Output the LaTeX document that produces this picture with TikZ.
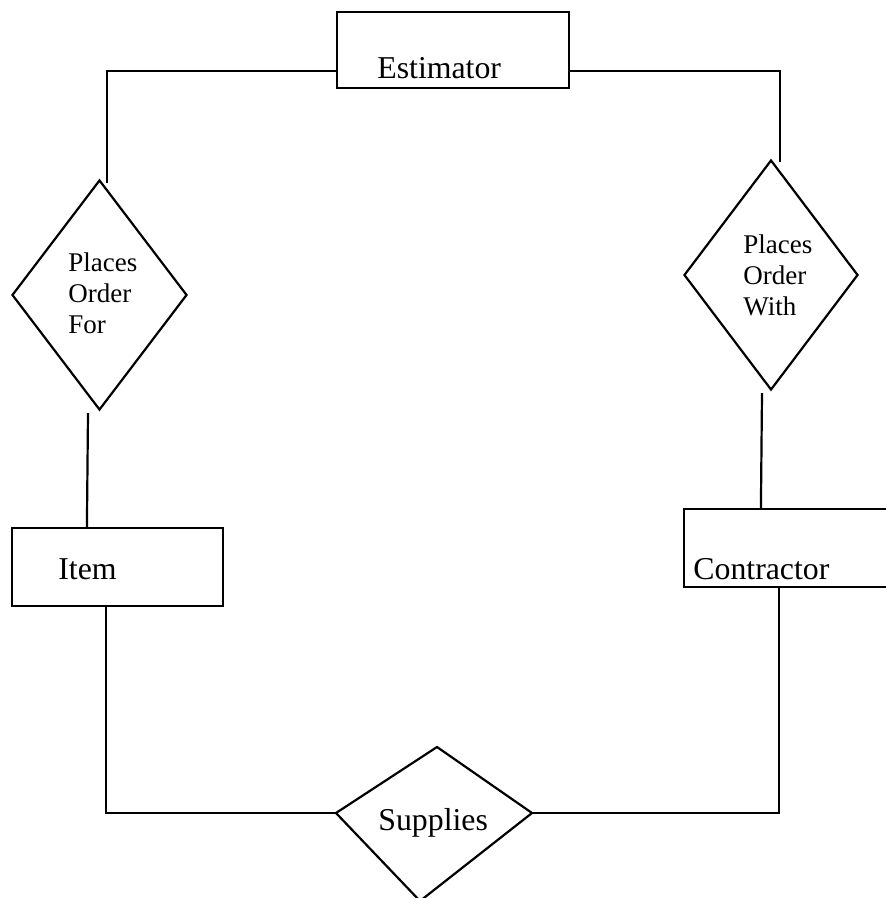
\documentclass[tikz,border=0pt]{standalone}
\usepackage{fontspec}
\setmainfont{Liberation Serif}
\usetikzlibrary{calc,shapes.geometric}
\begin{document}
% one unit = one pixel of the 886 x 898 drawing, y grows downwards
\begin{tikzpicture}[x=0.5pt,y=-0.5pt,
  entity/.style={draw, rectangle, line width=1.1pt, inner sep=0pt},
  relation/.style={draw, diamond, line width=1.1pt, inner sep=0pt},
  label text/.style={inner sep=0pt, font=\fontsize{15.9}{18}\selectfont},
  rel text/.style={inner sep=0pt, align=left, font=\fontsize{13.5}{15.6}\selectfont},
  link/.style={line width=1.1pt}]

\useasboundingbox (0,0) rectangle (886,898);
\clip (0,0) rectangle (886,898);

% entities
\node[entity, minimum width=116pt, minimum height=38pt] (est) at (453,50) {};
\node[entity, minimum width=105.5pt, minimum height=39pt] (item) at (117.5,567) {};
\node[entity, minimum width=103pt, minimum height=39pt] (con) at (787,548) {};

% relationships
\node[relation, minimum width=87.5pt, minimum height=115pt] (pof) at (99.5,295) {};
\node[relation, minimum width=87pt, minimum height=115pt] (pow) at (771,275) {};

% the hand-drawn, slightly skewed "Supplies" diamond
\coordinate (supL) at (336,813);
\coordinate (supT) at (437,747);
\coordinate (supR) at (532,813);
\coordinate (supB) at (420,901);
\draw[link] (supL) -- (supT) -- (supR) -- (supB) -- cycle;

% labels
\node[label text, anchor=base west] (est-t) at (377,79) {Estimator};
\node[label text, anchor=base west] (item-t) at (58,579) {Item};
\node[label text, anchor=base west] (con-t) at (693,579) {Contractor};
\node[label text, anchor=base west] (sup-t) at (378,830) {Supplies};
\node[rel text, anchor=north west] (pof-t) at (68,252) {Places\\Order\\For};
\node[rel text, anchor=north west] (pow-t) at (743,234) {Places\\Order\\With};

% connectors
\draw[link] ($(est.south west)+(0,-18)$) -| ($(pof.north)+(7.5,4)$);
\draw[link] ($(pof.south)+(-11.5,2)$) -- ($(item.north west)+(76,0)$);
\draw[link] ($(item.south west)+(95,0)$) |- (supL);
\draw[link] ($(est.south east)+(0,-18)$) -| ($(pow.north)+(9,3)$);
\draw[link] ($(pow.south)+(-9,2)$) -- ($(con.north west)+(78,0)$);
\draw[link] ($(con.south west)+(96,0)$) |- (supR);
\end{tikzpicture}
\end{document}
